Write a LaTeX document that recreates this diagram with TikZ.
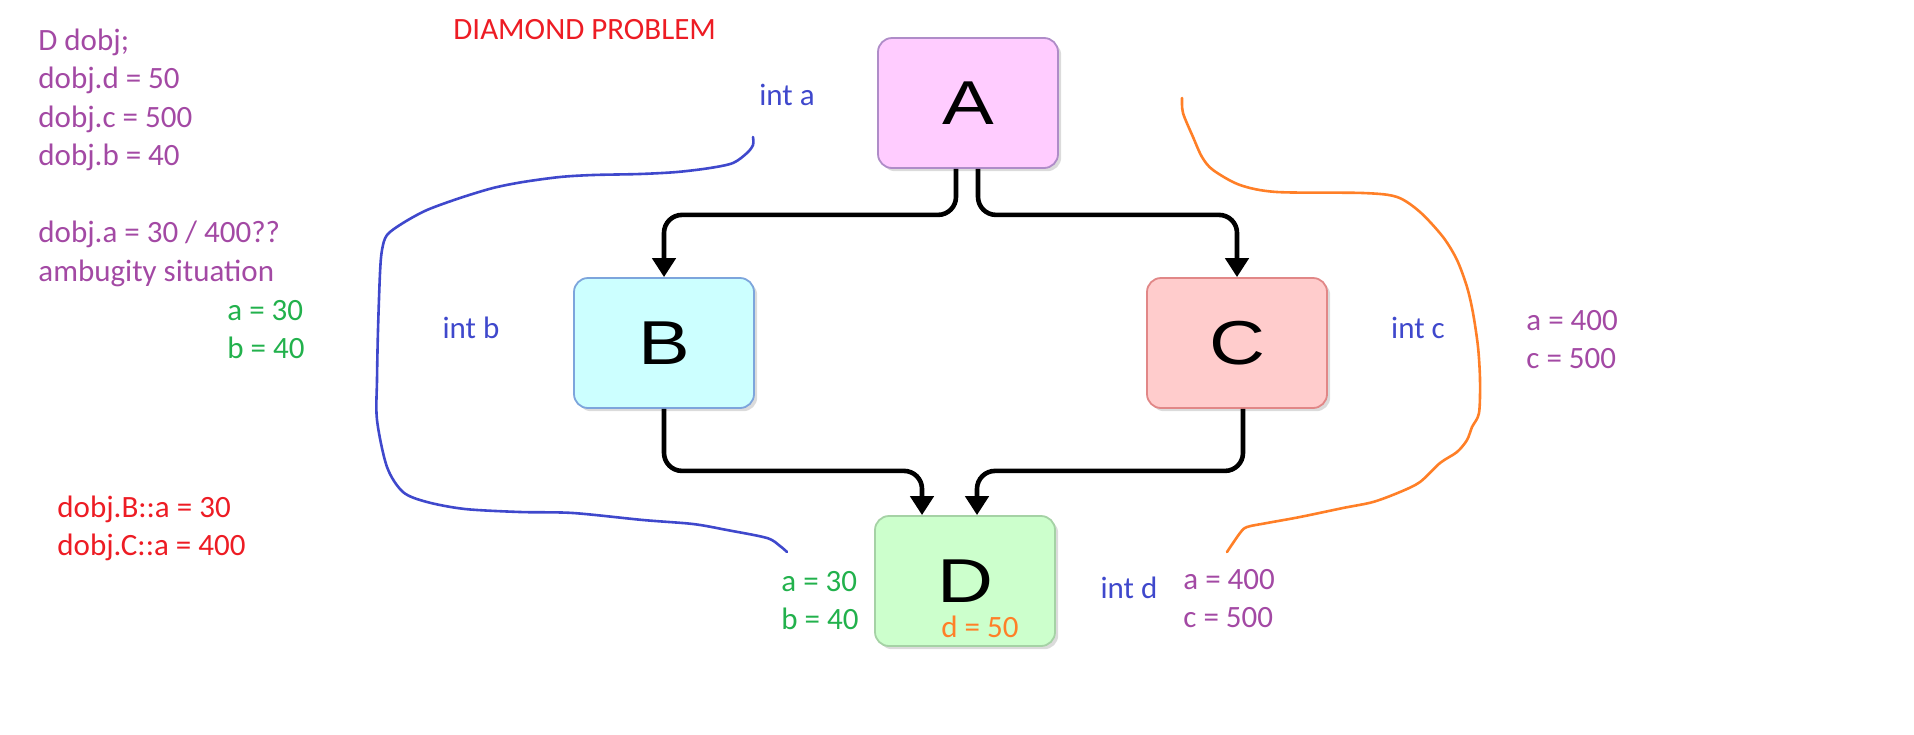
\documentclass[tikz,border=0pt]{standalone}
\usepackage{fontspec}
\setmainfont{Carlito}
\newfontfamily\boxfont{Liberation Sans}
\usepackage{graphicx}
\usetikzlibrary{positioning,arrows.meta,shadows}
\definecolor{plum}{RGB}{163,73,164}
\definecolor{leaf}{RGB}{34,177,76}
\definecolor{ink}{RGB}{63,72,204}
\definecolor{alarm}{RGB}{237,28,36}
\definecolor{amber}{RGB}{255,127,39}
\definecolor{boxA}{RGB}{255,204,255}
\definecolor{boxB}{RGB}{204,255,255}
\definecolor{boxC}{RGB}{255,204,204}
\definecolor{boxD}{RGB}{204,255,204}

\begin{document}
\begin{tikzpicture}[
  x=0.5pt, y=-0.5pt,
  font=\fontsize{15.5}{19.25}\selectfont,
  box/.style={draw, rounded corners=7pt, minimum width=90pt, minimum height=65pt,
              line width=0.9pt, inner sep=0pt, font=\boxfont\fontsize{31}{31}\selectfont,
              drop shadow={shadow xshift=1.6pt, shadow yshift=-1.6pt, fill=black!28}},
  flow/.style={-{Triangle[width=11.5pt,length=9.5pt]}, line width=2.3pt, rounded corners=9pt},
  txt/.style={anchor=west, align=left, inner sep=0pt},
  hand/.style={line width=1.3pt, line cap=round, line join=round},
]
\useasboundingbox (0,0) rectangle (1914,734);

% ---------- the four classes ----------
\node[box, fill=boxA, draw={rgb,255:red,175;green,140;blue,200}] (A) at (968,103) {\scalebox{1.25}[1]{A}};
\node[box, fill=boxB, draw={rgb,255:red,125;green,165;blue,220}] (B) at (664,343) {\scalebox{1.25}[1]{B}};
\node[box, fill=boxC, draw={rgb,255:red,225;green,135;blue,135}] (C) at (1237,343) {\scalebox{1.25}[1]{C}};
\node[box, fill=boxD, draw={rgb,255:red,165;green,210;blue,165}] (D) at (965,581) {\scalebox{1.25}[1]{D}};

% inheritance arrows
\draw[flow] ([xshift=-6pt]A.south) -- ++(0,46) -| (B.north);
\draw[flow] ([xshift=5pt]A.south)  -- ++(0,46) -| (C.north);
\draw[flow] (B.south) -- ++(0,62) -| ([xshift=-21.5pt]D.north);
\draw[flow] ([xshift=3pt]C.south) -- ++(0,62) -| ([xshift=6pt]D.north);

% ---------- member labels ----------
\node[ink, inner sep=0pt] (ia) at (787,95)  {int a};
\node[ink, inner sep=0pt] (ib) at (471,328) {int b};
\node[ink, inner sep=0pt] (ic) at (1418,328) {int c};
\node[ink, inner sep=0pt] (id) at (1129,588) {int d};
\node[amber, inner sep=0pt] (dval) at ([xshift=7.5pt,yshift=10pt]D.south) {d = 50};

% ---------- notes ----------
\node[txt, text=alarm] (title) at (453,30) {DIAMOND PROBLEM};
\node[txt, text=plum] (decl) at (38,157.5) {D dobj;\\ dobj.d = 50\\ dobj.c = 500\\ dobj.b = 40\\[19.25pt] dobj.a = 30 / 400??\\ ambugity situation};
\node[txt, text=leaf] (bvals) at (227,329.5) {a = 30\\ b = 40};
\node[txt, text=alarm] (scoped) at (57,528.5) {dobj.B::a = 30\\ dobj.C::a = 400};
\node[txt, text=plum] (cvals) at (1526,339.5) {a = 400\\ c = 500};
\node[txt, text=leaf] (dleft) at (781,600.5) {a = 30\\ b = 40};
\node[txt, text=plum] (dright) at (1183,598.5) {a = 400\\ c = 500};

% freehand paths (B path and C path)
\draw[hand, ink] plot[smooth, tension=0.5] coordinates {(753,137) (753,145) (747,153) (733,163) (710,168) (677,172) (640,174) (593,175) (560,177) (523,182) (493,188) (460,198) (427,210) (403,223) (387,235) (382,250) (380,273) (378,330) (377,380) (377,420) (387,467) (403,492) (427,502) (465,509) (520,512) (573,513) (643,520) (693,524) (727,530) (767,538) (780,546) (787,552)};
\draw[hand, amber] plot[smooth, tension=0.5] coordinates {(1182,98) (1183,113) (1193,137) (1202,157) (1213,170) (1240,185) (1277,192) (1363,193) (1397,197) (1420,212) (1443,237) (1457,260) (1467,287) (1473,313) (1478,347) (1480,380) (1479,413) (1472,427) (1467,440) (1457,452) (1440,463) (1420,482) (1400,492) (1373,502) (1343,508) (1300,517) (1267,523) (1247,527) (1240,533) (1227,552)};

\end{tikzpicture}
\end{document}
